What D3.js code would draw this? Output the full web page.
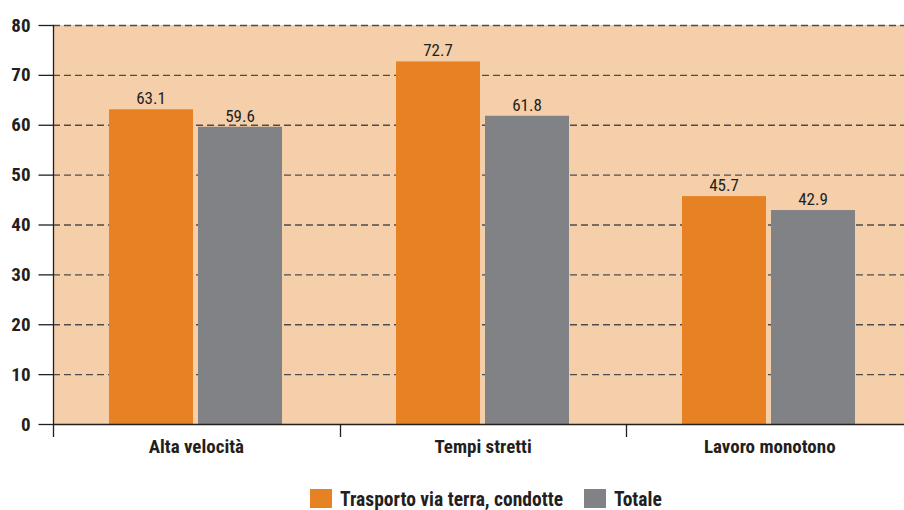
<!DOCTYPE html>
<html><head><meta charset="utf-8">
<script src="https://cdn.jsdelivr.net/npm/d3@7"></script>
<style>body{margin:0;background:#fff;} svg{display:block;}</style>
</head><body>
<svg id="c" width="904" height="510"></svg>
<script>
const categories = ["Alta velocità", "Tempi stretti", "Lavoro monotono"];
const seriesNames = ["Trasporto via terra, condotte", "Totale"];
const trasporto = [63.1, 72.7, 45.7];
const totale = [59.6, 61.8, 42.9];
const yTicks = [0, 10, 20, 30, 40, 50, 60, 70, 80];
const colors = ["#E78224", "#808285"];

const font = "'Liberation Sans Narrow','Roboto Condensed','DejaVu Sans Condensed',sans-serif";
const svg = d3.select("#c");
const L = 53, T = 25, B = 424, R = 904;

const x0 = d3.scaleBand().domain(categories).range([L, L + 3 * 286.7]).padding(0);
const x1 = d3.scaleBand().domain(seriesNames).range([56, 229]).paddingInner(0.056).paddingOuter(0);
const y = d3.scaleLinear().domain([0, 80]).range([B, T]);

svg.append("rect").attr("x", L).attr("y", T).attr("width", R - L).attr("height", B - T).attr("fill", "#F5CEAA");

// gridlines
svg.append("g").selectAll("line").data(yTicks.filter(d => d > 0)).join("line")
  .attr("x1", L).attr("x2", R).attr("y1", d => y(d) + 0.5).attr("y2", d => y(d) + 0.5)
  .attr("stroke", "#4d4d4f").attr("stroke-width", 1.3).attr("stroke-dasharray", "7,4");

// bars
const data = categories.map((c, i) => ({ c, vals: [trasporto[i], totale[i]] }));
const g = svg.append("g").selectAll("g").data(data).join("g")
  .attr("transform", d => `translate(${Math.round(x0(d.c))},0)`);
g.selectAll("rect").data(d => d.vals.map((v, k) => ({ v, k }))).join("rect")
  .attr("x", d => x1(seriesNames[d.k]))
  .attr("width", x1.bandwidth())
  .attr("y", d => y(d.v)).attr("height", d => B - y(d.v))
  .attr("fill", d => colors[d.k]);
g.selectAll("text").data(d => d.vals.map((v, k) => ({ v, k }))).join("text")
  .attr("x", d => x1(seriesNames[d.k]) + x1.bandwidth() / 2)
  .attr("y", d => y(d.v) - 5)
  .attr("text-anchor", "middle").attr("font-family", font).attr("font-size", 17)
  .attr("fill", "#231f20").text(d => d.v.toFixed(1));

// y axis
const yAxis = svg.append("g").attr("transform", `translate(${L + 0.5},0)`)
  .call(d3.axisLeft(y).tickValues(yTicks).tickSize(15).tickPadding(8).tickFormat(d3.format("d")));
yAxis.select(".domain").attr("stroke", "#231f20").attr("stroke-width", 1.3).attr("d", `M0,${T}V${B + 13}`);
yAxis.selectAll(".tick line").attr("stroke", "#231f20").attr("stroke-width", 1.3);
yAxis.selectAll(".tick text").attr("font-family", font).attr("font-weight", "bold")
  .attr("font-size", 19).attr("fill", "#231f20");

// x axis
const xAxis = svg.append("g").attr("transform", `translate(0,${B + 0.5})`)
  .call(d3.axisBottom(x0).tickSize(0).tickPadding(15));
xAxis.select(".domain").attr("stroke", "#231f20").attr("stroke-width", 1.3).attr("d", `M${L},0H${R}`);
xAxis.selectAll(".tick text").attr("font-family", font).attr("font-weight", "bold")
  .attr("font-size", 19).attr("fill", "#231f20");
svg.append("g").selectAll("line").data(categories.slice(1)).join("line")
  .attr("x1", d => Math.round(x0(d)) + 0.5).attr("x2", d => Math.round(x0(d)) + 0.5)
  .attr("y1", B).attr("y2", B + 13).attr("stroke", "#231f20").attr("stroke-width", 1.3);

// legend
const legX = [310, 584];
const leg = svg.append("g").selectAll("g").data(seriesNames).join("g")
  .attr("transform", (d, i) => `translate(${legX[i]},489)`);
leg.append("rect").attr("width", 22).attr("height", 19).attr("fill", (d, i) => colors[i]);
leg.append("text").attr("x", 30).attr("y", 17).attr("font-family", font).attr("font-weight", "bold")
  .attr("font-size", 19.5).attr("fill", "#231f20").text(d => d);
</script>
</body></html>
